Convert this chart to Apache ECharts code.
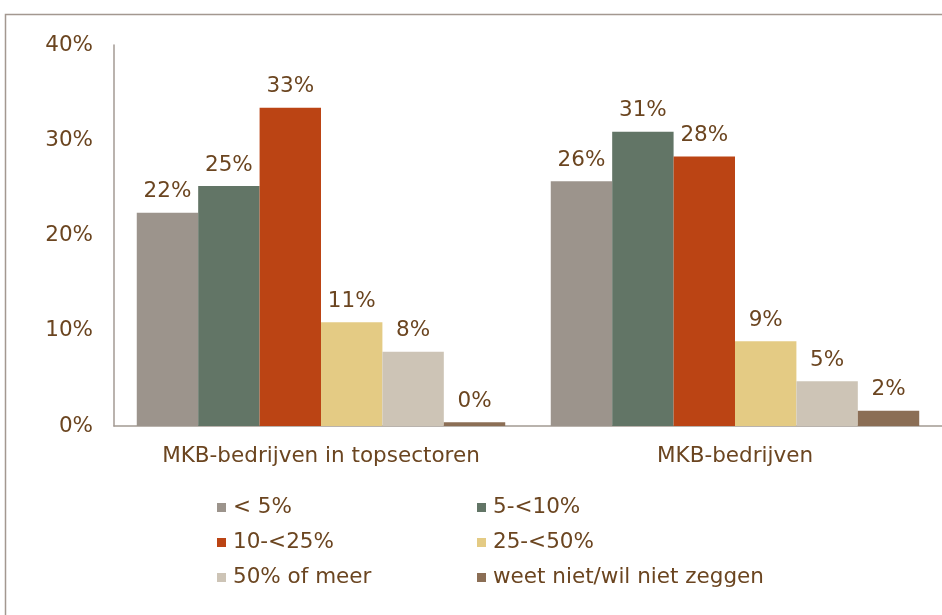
<!DOCTYPE html>
<html>
<head>
<meta charset="utf-8">
<script src="https://cdn.jsdelivr.net/npm/echarts@6/dist/echarts.min.js"></script>
<style>
html,body{margin:0;padding:0;background:#fff;}
#c{width:942px;height:615px;}
</style>
</head>
<body>
<div id="c"></div>
<script>
var categories = ['MKB-bedrijven in topsectoren', 'MKB-bedrijven'];
var seriesNames = ['< 5%', '5-<10%', '10-<25%', '25-<50%', '50% of meer', 'weet niet/wil niet zeggen'];
var s_lt5 = [22.4, 25.7];
var s_5_10 = [25.2, 30.9];
var s_10_25 = [33.4, 28.3];
var s_25_50 = [10.9, 8.9];
var s_50plus = [7.8, 4.7];
var s_weetniet = [0.4, 1.6];
var yTicks = [0, 10, 20, 30, 40];
var colors = ['#9c948c', '#627566', '#bb4414', '#e4cb84', '#cdc4b6', '#8b6e55'];

var seriesData = [s_lt5, s_5_10, s_10_25, s_25_50, s_50plus, s_weetniet];
var textColor = '#6b4520';
var font = 'DejaVu Sans';
var fs = 21.5;

var chart = echarts.init(document.getElementById('c'), null, {renderer: 'canvas'});
var series = seriesNames.map(function (n, i) {
  return {
    name: n,
    type: 'bar',
    data: seriesData[i],
    barGap: '0%',
    barCategoryGap: '11%',
    itemStyle: {color: colors[i]},
    label: {
      show: true,
      position: 'top',
      distance: 10,
      color: textColor,
      fontFamily: font,
      fontSize: fs,
      formatter: function (p) { return Math.round(p.value) + '%'; }
    },
    emphasis: {disabled: true}
  };
});

function legendFor(names, left) {
  return {
    orient: 'vertical',
    left: left,
    top: 496,
    padding: 0,
    data: names,
    itemWidth: 9,
    itemHeight: 9,
    itemGap: 12,
    icon: 'rect',
    selectedMode: false,
    textStyle: {color: textColor, fontFamily: font, fontSize: fs, lineHeight: 23, padding: [0, 0, 0, 2]}
  };
}

chart.setOption({
  animation: false,
  textStyle: {fontFamily: font},
  graphic: [{
    type: 'rect',
    shape: {x: 5.5, y: 14.5, width: 1000, height: 700},
    style: {fill: 'none', stroke: '#a39890', lineWidth: 1.5},
    silent: true
  }],
  legend: [
    legendFor([seriesNames[0], seriesNames[2], seriesNames[4]], 217),
    legendFor([seriesNames[1], seriesNames[3], seriesNames[5]], 477)
  ],
  grid: {left: 114, top: 45, width: 830, height: 381, containLabel: false},
  xAxis: {
    type: 'category',
    data: categories,
    axisLine: {lineStyle: {color: '#a39a93', width: 1.5}},
    axisTick: {show: false},
    axisLabel: {color: textColor, fontFamily: font, fontSize: fs, margin: 19}
  },
  yAxis: {
    type: 'value',
    min: 0,
    max: 40,
    interval: 10,
    axisLine: {show: true, lineStyle: {color: '#a39a93', width: 1.5}},
    axisTick: {show: false},
    splitLine: {show: false},
    axisLabel: {
      color: textColor, fontFamily: font, fontSize: fs, margin: 21,
      formatter: function (v) { return yTicks.indexOf(v) >= 0 ? v + '%' : ''; }
    }
  },
  series: series
});
</script>
</body>
</html>
